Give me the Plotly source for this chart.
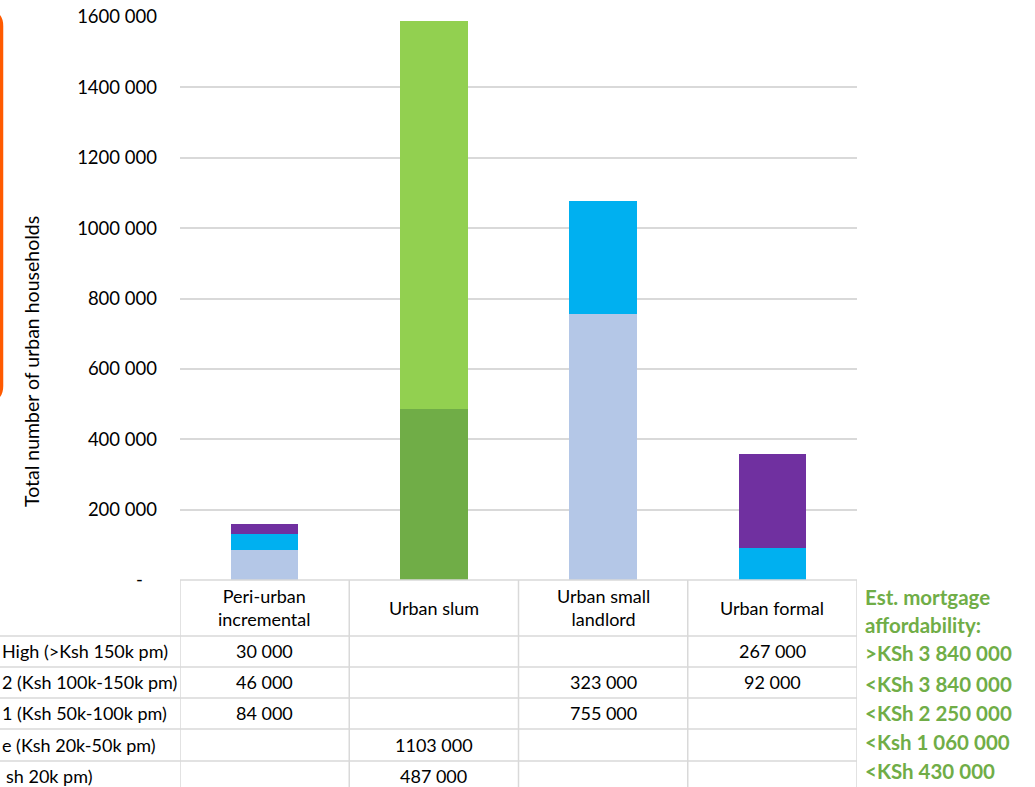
import plotly.graph_objects as go

categories = ["Peri-urban incremental", "Urban slum", "Urban small landlord", "Urban formal"]
header_labels = ["Peri-urban<br>incremental", "Urban slum", "Urban small<br>landlord", "Urban formal"]

# series (bottom to top of stack)
low = [None, 487000, None, None]
lower_middle = [None, 1103000, None, None]
upper_middle_1 = [84000, None, 755000, None]
upper_middle_2 = [46000, None, 323000, 92000]
high = [30000, None, None, 267000]

series_names = ["Low (<Ksh 20k pm)", "Lower middle (Ksh 20k-50k pm)", "Upper middle 1 (Ksh 50k-100k pm)",
                "Upper middle 2 (Ksh 100k-150k pm)", "High (>Ksh 150k pm)"]
# visible (cropped) portions of the row labels, top row first
row_labels_visible = ["High (&gt;Ksh 150k pm)", "2 (Ksh 100k-150k pm)", "1 (Ksh 50k-100k pm)",
                      "e (Ksh 20k-50k pm)", "sh 20k pm)"]
mortgage_title = ["Est. mortgage", "affordability:"]
mortgage_labels = ["&gt;KSh 3 840 000", "&lt;KSh 3 840 000", "&lt;KSh 2 250 000", "&lt;Ksh 1 060 000", "&lt;KSh 430 000"]

y_ticks = [0, 200000, 400000, 600000, 800000, 1000000, 1200000, 1400000, 1600000]

colors = {
    "low": "#70AD47",
    "lower_middle": "#92D050",
    "upper_middle_1": "#B4C7E7",
    "upper_middle_2": "#00B0F0",
    "high": "#7030A0",
}

W, H = 1035, 787
ML, MR, MT, MB = 180, 178, 17, 207
PW, PH = W - ML - MR, H - MT - MB


def px(xp):
    return (xp - ML) / PW


def py(yp):
    return (H - MB - yp) / PH


def fmt(v):
    if v == 0:
        return "-&nbsp;&nbsp;&nbsp;"
    if v >= 1000000:
        return f"{v // 1000} {v % 1000:03d}"
    return f"{v:,}".replace(",", " ")


FONT = "Lato, 'Open Sans', sans-serif"
FS = 18

fig = go.Figure()
stack = [("low", low), ("lower_middle", lower_middle), ("upper_middle_1", upper_middle_1),
         ("upper_middle_2", upper_middle_2), ("high", high)]
for (key, vals), name in zip(stack, series_names):
    fig.add_trace(go.Bar(x=categories, y=vals, name=name, marker=dict(color=colors[key], line=dict(width=0))))

fig.update_layout(
    barmode="stack",
    bargap=0.6,
    width=W, height=H,
    margin=dict(l=ML, r=MR, t=MT, b=MB, pad=0, autoexpand=False),
    plot_bgcolor="white", paper_bgcolor="white",
    showlegend=False,
    font=dict(family=FONT, size=FS, color="#000000"),
    xaxis=dict(showticklabels=False, showgrid=False, zeroline=False, showline=False, ticks="",
               range=[-0.5, 3.5], automargin=False),
    yaxis=dict(range=[0, 1600000], tickvals=y_ticks, ticktext=[fmt(v) for v in y_ticks],
               showgrid=True, gridcolor="#D9D9D9", gridwidth=1.5, zeroline=False, showline=False,
               ticks="", ticklabelstandoff=22, automargin=False,
               tickfont=dict(size=18.5, family=FONT)),
)

shapes = []
LC = "#D9D9D9"
# table top border (under bars)
shapes.append(dict(type="line", xref="x", yref="paper", x0=-0.5, x1=3.5, y0=0, y1=0,
                   line=dict(color=LC, width=1.5)))
# vertical column borders
for i in range(len(categories) + 1):
    shapes.append(dict(type="line", xref="x", yref="paper", x0=i - 0.5, x1=i - 0.5, y0=0, y1=py(H + 5),
                       line=dict(color=LC, width=1.5)))
# horizontal row borders
row_lines = [636, 667, 698, 729, 761]
for yl in row_lines:
    shapes.append(dict(type="line", xref="paper", yref="paper", x0=px(0), x1=1, y0=py(yl), y1=py(yl),
                       line=dict(color=LC, width=1.5)))

# orange rounded frame (mostly off-canvas on the left)
r = 14
xr, xl, yt, yb = 1.5, -120, 12, 400
path = (f"M {px(xl)},{py(yt)} L {px(xr - r)},{py(yt)} "
        f"Q {px(xr)},{py(yt)} {px(xr)},{py(yt + r)} "
        f"L {px(xr)},{py(yb - r)} Q {px(xr)},{py(yb)} {px(xr - r)},{py(yb)} "
        f"L {px(xl)},{py(yb)} Z")
shapes.append(dict(type="path", xref="paper", yref="paper", path=path,
                   line=dict(color="#FF5A00", width=3.5)))
fig.update_layout(shapes=shapes)

ann = []
# header labels
for i, lab in enumerate(header_labels):
    ann.append(dict(xref="x", yref="paper", x=i, y=py(608), text=lab, showarrow=False,
                    xanchor="center", yanchor="middle", font=dict(size=FS, family=FONT)))

# cells: rows top to bottom = high, um2, um1, lower middle, low
rows = [high, upper_middle_2, upper_middle_1, lower_middle, low]
row_centers = [651, 682, 713, 745, 776]
for vals, yc, lab in zip(rows, row_centers, row_labels_visible):
    for i, v in enumerate(vals):
        if v:
            ann.append(dict(xref="x", yref="paper", x=i, y=py(yc), text=fmt(v), showarrow=False,
                            xanchor="center", yanchor="middle", font=dict(size=FS, family=FONT)))
    xs = 4 if lab.startswith("sh") else 0
    ann.append(dict(xref="paper", yref="paper", x=px(xs), y=py(yc), text=lab, showarrow=False,
                    xanchor="left", yanchor="middle", font=dict(size=FS, family=FONT)))

# y axis title
ann.append(dict(xref="paper", yref="paper", x=px(31), y=py(362), text="Total number of urban households",
                textangle=-90, showarrow=False, xanchor="center", yanchor="middle",
                font=dict(size=19.5, family=FONT)))

# mortgage affordability notes
GREEN = "#70AD47"
MFS = 20.5
for lab, yc in zip(mortgage_title, [597, 625]):
    ann.append(dict(xref="paper", yref="paper", x=px(863), y=py(yc), text="<b>" + lab + "</b>",
                    showarrow=False, xanchor="left", yanchor="middle", align="left",
                    font=dict(size=MFS, family=FONT, color=GREEN)))
for lab, yc in zip(mortgage_labels, [653, 684, 713, 742, 771]):
    ann.append(dict(xref="paper", yref="paper", x=px(863), y=py(yc), text="<b>" + lab + "</b>",
                    showarrow=False, xanchor="left", yanchor="middle", align="left",
                    font=dict(size=MFS, family=FONT, color=GREEN)))

fig.update_layout(annotations=ann)
fig.write_html("out.html")
